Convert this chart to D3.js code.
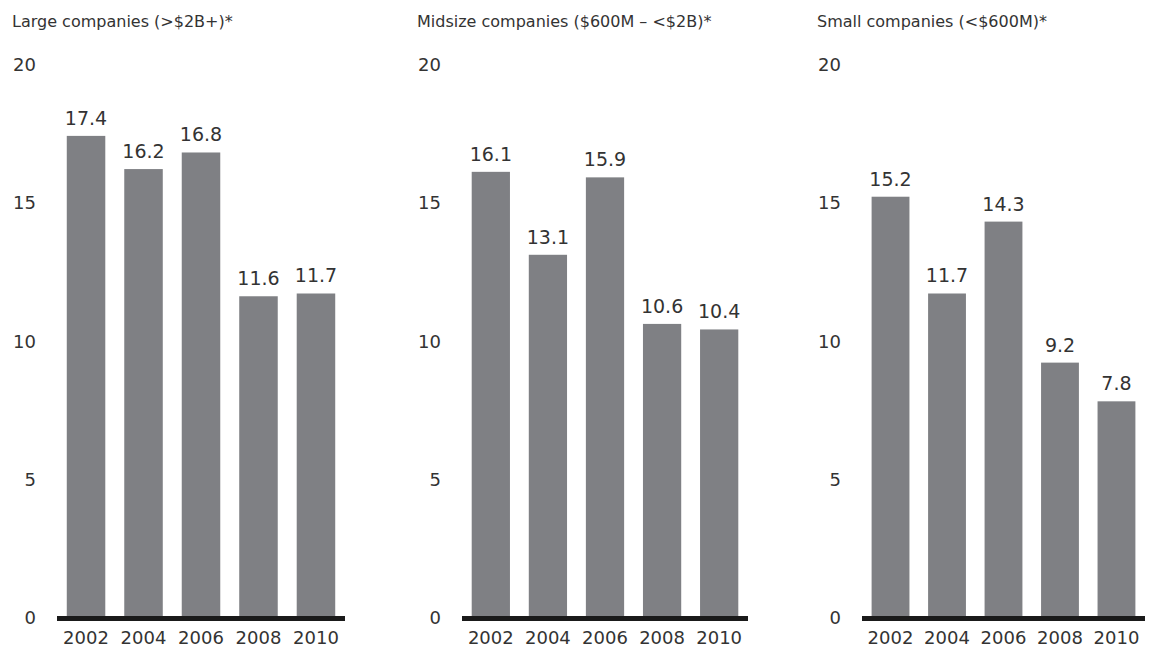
<!DOCTYPE html>
<html>
<head>
<meta charset="utf-8">
<script src="https://cdn.jsdelivr.net/npm/d3@7"></script>
<style>
  html, body { margin: 0; padding: 0; background: #fff; }
  svg text { font-family: "DejaVu Sans", sans-serif; fill: #333; }
</style>
</head>
<body>
<svg id="chart" width="1153" height="650"></svg>
<script>
// Years shown on each panel's x axis
const years = ["2002", "2004", "2006", "2008", "2010"];

// Panel titles
const titles = [
  "Large companies (>$2B+)*",
  "Midsize companies ($600M \u2013 <$2B)*",
  "Small companies (<$600M)*"
];

// Values per panel
const largeValues = [17.4, 16.2, 16.8, 11.6, 11.7];
const midsizeValues = [16.1, 13.1, 15.9, 10.6, 10.4];
const smallValues = [15.2, 11.7, 14.3, 9.2, 7.8];

// Y-axis ticks
const yTicks = [0, 5, 10, 15, 20];

const panels = [
  { title: titles[0], values: largeValues,   x0: 57,  x1: 345,  titleX: 12,  tickX: 36 },
  { title: titles[1], values: midsizeValues, x0: 462, x1: 748,  titleX: 417, tickX: 441 },
  { title: titles[2], values: smallValues,   x0: 862, x1: 1145, titleX: 817, tickX: 841 }
];

const svg = d3.select("#chart");
const y = d3.scaleLinear().domain([0, 20]).range([617, 64]);

panels.forEach(p => {
  const g = svg.append("g");
  const x = d3.scaleBand().domain(years).range([p.x0, p.x1])
    .paddingInner(0.33).paddingOuter(0.17);

  g.append("text")
    .attr("x", p.titleX).attr("y", 27)
    .attr("font-size", 16)
    .text(p.title);

  // Y tick labels (no axis line)
  g.selectAll(".ytick").data(yTicks).join("text")
    .attr("class", "ytick")
    .attr("x", p.tickX).attr("y", d => y(d) + 7)
    .attr("text-anchor", "end")
    .attr("font-size", 18)
    .text(d => d);

  g.selectAll("rect").data(p.values).join("rect")
    .attr("x", (d, i) => x(years[i]))
    .attr("y", d => y(d))
    .attr("width", x.bandwidth())
    .attr("height", d => y(0) - y(d))
    .attr("fill", "#7f8084");

  g.selectAll(".val").data(p.values).join("text")
    .attr("class", "val")
    .attr("x", (d, i) => x(years[i]) + x.bandwidth() / 2)
    .attr("y", d => y(d) - 11)
    .attr("text-anchor", "middle")
    .attr("font-size", 19)
    .text(d => d.toFixed(1));

  g.append("line")
    .attr("x1", p.x0).attr("x2", p.x1)
    .attr("y1", 618.5).attr("y2", 618.5)
    .attr("stroke", "#1a1a1a").attr("stroke-width", 5);

  g.selectAll(".year").data(years).join("text")
    .attr("class", "year")
    .attr("x", d => x(d) + x.bandwidth() / 2)
    .attr("y", 644)
    .attr("text-anchor", "middle")
    .attr("font-size", 18)
    .text(d => d);
});
</script>
</body>
</html>
